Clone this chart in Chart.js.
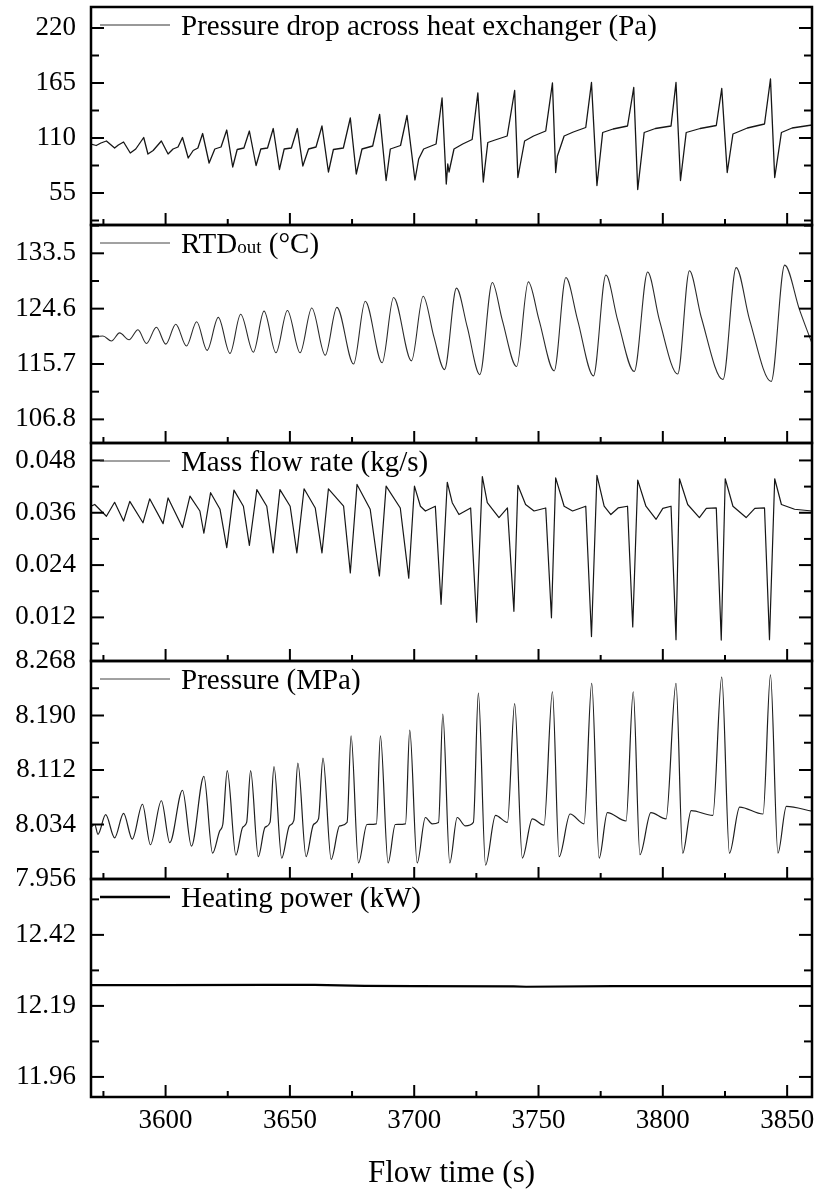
<!DOCTYPE html>
<html>
<head>
<meta charset="utf-8">
<title>Flow time traces</title>
<script src="https://cdn.jsdelivr.net/npm/chart.js@4.4.1/dist/chart.umd.min.js"></script>
<style>
    html, body { margin: 0; padding: 0; background: #fff; }
    #wrap { width: 819px; height: 1192px; }
</style>
</head>
<body>
<div id="wrap"><canvas id="traces" width="819" height="1192"></canvas></div>
<script>
// shared time axis
const timeTicks = [3600, 3650, 3700, 3750, 3800, 3850]

// pressure drop across heat exchanger (Pa)
const dropTicks = [55, 110, 165, 220]
const dropTime = [
    3570.0, 3572.1, 3574.0, 3576.2, 3579.5, 3581.0, 3583.1, 3585.8, 3588.0, 3591.2,
    3592.9, 3595.0, 3598.3, 3601.0, 3603.0, 3605.0, 3606.8, 3609.1, 3611.1, 3613.0,
    3614.9, 3617.5, 3619.8, 3622.3, 3624.6, 3627.0, 3628.8, 3631.5, 3633.7, 3636.4,
    3638.3, 3641.0, 3643.3, 3645.8, 3647.7, 3650.6, 3653.0, 3655.2, 3657.5, 3660.5,
    3662.9, 3665.5, 3667.5, 3671.5, 3674.3, 3676.7, 3679.0, 3683.3, 3686.1, 3688.7,
    3690.4, 3694.5, 3697.1, 3700.3, 3701.8, 3703.8, 3708.8, 3711.2, 3712.9, 3713.5,
    3714.0, 3716.0, 3719.5, 3723.3, 3725.6, 3727.8, 3728.4, 3729.6, 3732.5, 3737.4,
    3740.4, 3741.7, 3744.4, 3748.0, 3752.9, 3755.6, 3756.9, 3757.6, 3760.3, 3764.0,
    3769.0, 3771.3, 3773.5, 3775.8, 3780.0, 3785.8, 3788.3, 3789.9, 3792.5, 3797.0,
    3803.3, 3805.3, 3807.1, 3809.4, 3815.0, 3821.5, 3823.7, 3825.9, 3828.2, 3834.0,
    3840.9, 3843.3, 3845.0, 3847.7, 3852.0, 3860.0,
]
const dropPa = [
    104, 102.5, 105, 107, 100, 103, 106, 95, 99, 110.5,
    94, 97.5, 107, 94, 99, 101, 110.5, 90, 97.5, 100,
    114.5, 85, 99, 101, 118, 81, 98.5, 100, 117, 82.5,
    99, 100, 119.5, 78.5, 99, 100, 119.5, 82, 99, 101,
    122, 76, 98.5, 100, 130, 74, 99, 102, 133.5, 67.5,
    99, 102.5, 132.5, 68, 89, 99, 104, 150, 64, 84,
    76, 99, 104, 108.5, 155, 66, 80, 105.5, 108, 112,
    157.5, 70.5, 107, 112, 117, 165, 75.5, 92, 112, 116,
    120.5, 165.5, 62.5, 115.5, 119, 122, 160.5, 58.5, 115.5, 119.5,
    122, 165.5, 67.5, 115.5, 119.5, 122.5, 159.5, 75.5, 114, 120,
    124, 169, 70.5, 115.5, 120, 123,
]

// outlet RTD temperature (°C)
const rtdTicks = [106.8, 115.7, 124.6, 133.5]
const rtdTime = [
    3570.0, 3574.8, 3578.2, 3581.5, 3585.3, 3588.9, 3592.3, 3596.3, 3600.1, 3604.1,
    3608.4, 3612.5, 3616.7, 3621.2, 3625.9, 3630.2, 3635.3, 3639.6, 3644.4, 3649.0,
    3654.1, 3658.8, 3664.2, 3668.9, 3675.6, 3680.3, 3687.1, 3691.7, 3698.9, 3703.6,
    3707.9, 3712.2, 3717.0, 3721.3, 3726.4, 3731.4, 3735.4, 3741.2, 3745.9, 3750.2,
    3756.3, 3761.0, 3765.7, 3772.1, 3777.1, 3781.8, 3788.5, 3793.9, 3798.6, 3806.0,
    3810.7, 3815.4, 3824.2, 3829.5, 3834.9, 3843.6, 3849.0, 3855.0, 3860.0,
]
const rtdTemp = [
    120.0, 120.2, 119.4, 120.7, 119.6, 121.2, 119.0, 121.6, 118.9, 122.1,
    118.6, 122.5, 117.9, 123.2, 117.4, 123.7, 117.6, 124.2, 117.5, 124.3,
    117.5, 124.7, 117.1, 124.8, 115.7, 125.8, 115.9, 126.4, 116.2, 126.6,
    120.1, 114.8, 127.9, 121.7, 114.0, 128.8, 122.8, 115.3, 128.9, 122.8,
    114.6, 129.6, 122.8, 113.8, 130.0, 122.8, 114.5, 130.5, 122.8, 114.1,
    130.7, 123.3, 113.2, 131.2, 122.8, 112.9, 131.6, 124.4, 119.0,
]

// mass flow rate (kg/s)
const flowTicks = [0.012, 0.024, 0.036, 0.048]
const flowTime = [
    3570.0, 3571.5, 3576.2, 3579.5, 3583.1, 3585.6, 3590.9, 3593.6, 3599.0, 3601.0,
    3606.8, 3609.8, 3613.8, 3615.4, 3618.1, 3621.9, 3624.6, 3627.5, 3631.3, 3633.7,
    3636.7, 3640.7, 3643.3, 3646.0, 3650.1, 3652.8, 3655.7, 3660.2, 3662.9, 3665.5,
    3671.6, 3674.3, 3677.0, 3682.3, 3686.0, 3688.7, 3694.4, 3697.8, 3700.1, 3702.5,
    3704.5, 3708.5, 3710.8, 3713.3, 3715.3, 3718.0, 3722.7, 3725.1, 3727.4, 3729.4,
    3731.5, 3734.1, 3737.5, 3740.1, 3741.7, 3744.8, 3748.2, 3752.9, 3755.2, 3756.9,
    3760.3, 3763.7, 3769.0, 3771.3, 3773.5, 3776.4, 3779.1, 3782.0, 3785.8, 3787.9,
    3789.9, 3793.2, 3797.3, 3800.0, 3803.3, 3805.3, 3806.7, 3810.0, 3814.7, 3817.5,
    3821.5, 3823.5, 3825.1, 3828.2, 3833.5, 3837.0, 3840.9, 3842.9, 3845.0, 3847.7,
    3853.0, 3860.0,
]
const flowRate = [
    0.0375, 0.0379, 0.0352, 0.0384, 0.0341, 0.0386, 0.0337, 0.0392, 0.0335, 0.0394,
    0.0326, 0.0398, 0.0364, 0.0313, 0.0406, 0.0368, 0.0280, 0.0412, 0.0375, 0.0285,
    0.0413, 0.0375, 0.0268, 0.0413, 0.0375, 0.0268, 0.0415, 0.0371, 0.0268, 0.0415,
    0.0375, 0.0222, 0.0425, 0.0368, 0.0215, 0.0421, 0.0371, 0.0210, 0.0421, 0.0375,
    0.0364, 0.0375, 0.0150, 0.0430, 0.0383, 0.0356, 0.0371, 0.0109, 0.0443, 0.0383,
    0.0368, 0.0349, 0.0371, 0.0134, 0.0423, 0.0379, 0.0364, 0.0371, 0.0119, 0.0440,
    0.0375, 0.0364, 0.0375, 0.0076, 0.0446, 0.0375, 0.0356, 0.0371, 0.0375, 0.0098,
    0.0435, 0.0375, 0.0345, 0.0370, 0.0375, 0.0069, 0.0438, 0.0379, 0.0349, 0.0370,
    0.0371, 0.0068, 0.0438, 0.0375, 0.0349, 0.0370, 0.0371, 0.0069, 0.0438, 0.0379,
    0.0368, 0.0364,
]

// system pressure (MPa)
const presTicks = [7.956, 8.034, 8.112, 8.190, 8.268]
const presTime = [
    3570.0, 3571.5, 3572.8, 3575.9, 3579.5, 3583.1, 3586.6, 3590.7, 3593.9, 3598.3,
    3601.7, 3606.8, 3610.4, 3615.4, 3618.9, 3621.8, 3623.0, 3624.8, 3628.3, 3631.0,
    3632.6, 3634.2, 3637.3, 3640.0, 3642.0, 3643.6, 3646.7, 3649.8, 3651.6, 3653.2,
    3656.5, 3659.5, 3661.5, 3663.3, 3666.6, 3670.0, 3673.0, 3674.6, 3677.6, 3681.0,
    3684.8, 3686.4, 3689.5, 3692.4, 3696.5, 3698.2, 3701.2, 3704.5, 3707.2, 3709.8,
    3711.5, 3714.3, 3717.3, 3720.6, 3723.8, 3725.8, 3728.7, 3732.7, 3737.5, 3740.4,
    3743.5, 3747.5, 3752.2, 3755.6, 3758.3, 3762.7, 3768.3, 3771.4, 3774.4, 3777.7,
    3785.2, 3788.1, 3790.8, 3795.2, 3801.3, 3805.3, 3808.0, 3811.4, 3820.1, 3823.7,
    3826.8, 3830.9, 3840.3, 3843.3, 3846.3, 3849.7, 3860.0,
]
const presMPa = [
    8.030, 8.034, 8.020, 8.048, 8.015, 8.050, 8.013, 8.063, 8.005, 8.068,
    8.008, 8.083, 8.003, 8.103, 7.993, 8.025, 8.034, 8.111, 7.990, 8.030,
    8.037, 8.111, 7.988, 8.030, 8.037, 8.117, 7.986, 8.032, 8.040, 8.122,
    7.988, 8.034, 8.042, 8.129, 7.984, 8.032, 8.037, 8.161, 7.979, 8.034,
    8.035, 8.161, 7.979, 8.034, 8.035, 8.169, 7.979, 8.044, 8.035, 8.037,
    8.192, 7.979, 8.044, 8.032, 8.037, 8.222, 7.976, 8.047, 8.037, 8.207,
    7.986, 8.042, 8.033, 8.224, 7.988, 8.049, 8.035, 8.236, 7.986, 8.051,
    8.039, 8.224, 7.991, 8.051, 8.042, 8.236, 7.993, 8.054, 8.047, 8.245,
    7.993, 8.059, 8.049, 8.248, 7.993, 8.060, 8.053,
]

// heating power (kW)
const powerTicks = [11.96, 12.19, 12.42]
const powerTime = [3570, 3600, 3640, 3660, 3680, 3700, 3740, 3745, 3780, 3820, 3860]
const powerKW = [12.257, 12.257, 12.258, 12.258, 12.255, 12.254, 12.253, 12.252, 12.254, 12.254, 12.254]

const SERIF = "'Liberation Serif', 'Times New Roman', serif"

const toPoints = (xs, ys) => xs.map((x, i) => ({ x, y: ys[i] }))

// one stacked y axis per panel, top to bottom
const panels = [
    {
        id: 'yDrop', min: 23, max: 241, ticks: dropTicks, digits: 0,
        data: toPoints(dropTime, dropPa), smooth: false, width: 1.3, color: '#161616',
        caption: [['Pressure drop across heat exchanger (Pa)', 29]], keyWidth: 1, keyColor: '#333',
    },
    {
        id: 'yRtd', min: 103.0, max: 138.05, ticks: rtdTicks, digits: 1,
        data: toPoints(rtdTime, rtdTemp), smooth: true, width: 1.1, color: '#2b2b2b',
        caption: [['RTD', 29], ['out', 19], [' (°C)', 29]], keyWidth: 1, keyColor: '#444',
    },
    {
        id: 'yFlow', min: 0.002, max: 0.052, ticks: flowTicks, digits: 3,
        data: toPoints(flowTime, flowRate), smooth: false, width: 1.2, color: '#161616',
        caption: [['Mass flow rate (kg/s)', 29]], keyWidth: 1, keyColor: '#444',
    },
    {
        id: 'yPres', min: 7.956, max: 8.268, ticks: presTicks, digits: 3,
        data: toPoints(presTime, presMPa), smooth: true, width: 1.2, color: '#1e1e1e',
        caption: [['Pressure (MPa)', 29]], keyWidth: 1, keyColor: '#444',
    },
    {
        id: 'yPower', min: 11.895, max: 12.601, ticks: powerTicks, digits: 2,
        data: toPoints(powerTime, powerKW), smooth: false, width: 2.2, color: '#000',
        caption: [['Heating power (kW)', 29]], keyWidth: 2.6, keyColor: '#000',
    },
]

// half-step ticks between the labelled ones
function minorValues(scale) {
    const major = scale.ticks.map(t => t.value)
    const step = major[1] - major[0]
    const out = []
    for (let v = major[0] - step / 2; v <= scale.max + 1e-9; v += step) {
        if (v >= scale.min - 1e-9) out.push(v)
    }
    return out
}

function seg(ctx, x1, y1, x2, y2) {
    ctx.beginPath()
    ctx.moveTo(x1, y1)
    ctx.lineTo(x2, y2)
    ctx.stroke()
}

// labels may hang over the frame edges, so no extra room is reserved for them
function noLabelPadding(s) {
    s.paddingTop = 0
    s.paddingBottom = 0
    s.paddingLeft = 0
    s.paddingRight = 0
}

// frames, inward ticks and the little key in each panel
const panelFrame = {
    id: 'panelFrame',
    afterDatasetsDraw(chart) {
        const { ctx, chartArea } = chart
        const xs = chart.scales.x
        const left = chartArea.left
        const right = chartArea.right
        ctx.save()
        ctx.lineCap = 'butt'
        panels.forEach(p => {
            const ys = chart.scales[p.id]
            const top = ys.top
            const bottom = ys.bottom
            ctx.strokeStyle = '#000'

            ctx.lineWidth = 2
            ys.ticks.forEach(t => {
                const y = ys.getPixelForValue(t.value)
                seg(ctx, left, y, left + 13, y)
                seg(ctx, right, y, right - 13, y)
            })
            minorValues(ys).forEach(v => {
                const y = ys.getPixelForValue(v)
                seg(ctx, left, y, left + 8, y)
                seg(ctx, right, y, right - 8, y)
            })
            xs.ticks.forEach(t => {
                const x = xs.getPixelForValue(t.value)
                seg(ctx, x, bottom, x, bottom - 12)
            })
            minorValues(xs).forEach(v => {
                const x = xs.getPixelForValue(v)
                seg(ctx, x, bottom, x, bottom - 6)
            })

            ctx.lineWidth = 2.5
            ctx.strokeRect(left, top, right - left, bottom - top)

            const ly = top + 18
            ctx.lineWidth = p.keyWidth
            ctx.strokeStyle = p.keyColor
            seg(ctx, left + 9, ly, left + 79, ly)
            ctx.fillStyle = '#000'
            ctx.textAlign = 'left'
            ctx.textBaseline = 'alphabetic'
            let tx = left + 90
            p.caption.forEach(([text, size]) => {
                ctx.font = `${size}px ${SERIF}`
                ctx.fillText(text, tx, ly + 10)
                tx += ctx.measureText(text).width
            })
        })
        ctx.restore()
    },
}

Chart.defaults.font.family = SERIF
Chart.defaults.color = '#000'

const scales = {
    x: {
        type: 'linear',
        position: 'bottom',
        min: 3570,
        max: 3860,
        afterBuildTicks: s => { s.ticks = timeTicks.map(value => ({ value })) },
        afterFit: s => { s.height = 95; noLabelPadding(s) },
        grid: { display: false, drawTicks: false },
        border: { display: false },
        ticks: { font: { size: 27 }, padding: 8, autoSkip: false, maxRotation: 0, callback: v => String(v) },
        title: { display: true, text: 'Flow time (s)', font: { size: 31 }, padding: { top: 0, bottom: 0 } },
    },
}

panels.forEach((p, i) => {
    scales[p.id] = {
        type: 'linear',
        position: 'left',
        stack: 'panels',
        stackWeight: 1,
        weight: panels.length - i,
        min: p.min,
        max: p.max,
        afterBuildTicks: s => { s.ticks = p.ticks.map(value => ({ value })) },
        afterFit: s => { s.width = 91; noLabelPadding(s) },
        grid: { display: false, drawTicks: false },
        border: { display: false },
        ticks: { font: { size: 27 }, padding: 15, autoSkip: false, callback: v => v.toFixed(p.digits) },
    }
})

const traces = new Chart(document.getElementById('traces'), {
    type: 'line',
    data: {
        datasets: panels.map(p => ({
            label: p.caption.map(c => c[0]).join(''),
            data: p.data,
            xAxisID: 'x',
            yAxisID: p.id,
            borderColor: p.color,
            borderWidth: p.width,
            pointRadius: 0,
            fill: false,
            tension: 0,
            cubicInterpolationMode: p.smooth ? 'monotone' : 'default',
            borderJoinStyle: 'round',
        })),
    },
    options: {
        responsive: false,
        devicePixelRatio: 1,
        animation: false,
        layout: { padding: { top: 7, right: 7, bottom: 0, left: 0 } },
        scales,
        plugins: {
            legend: { display: false },
            tooltip: { enabled: false },
        },
    },
    plugins: [panelFrame],
})
</script>
</body>
</html>
